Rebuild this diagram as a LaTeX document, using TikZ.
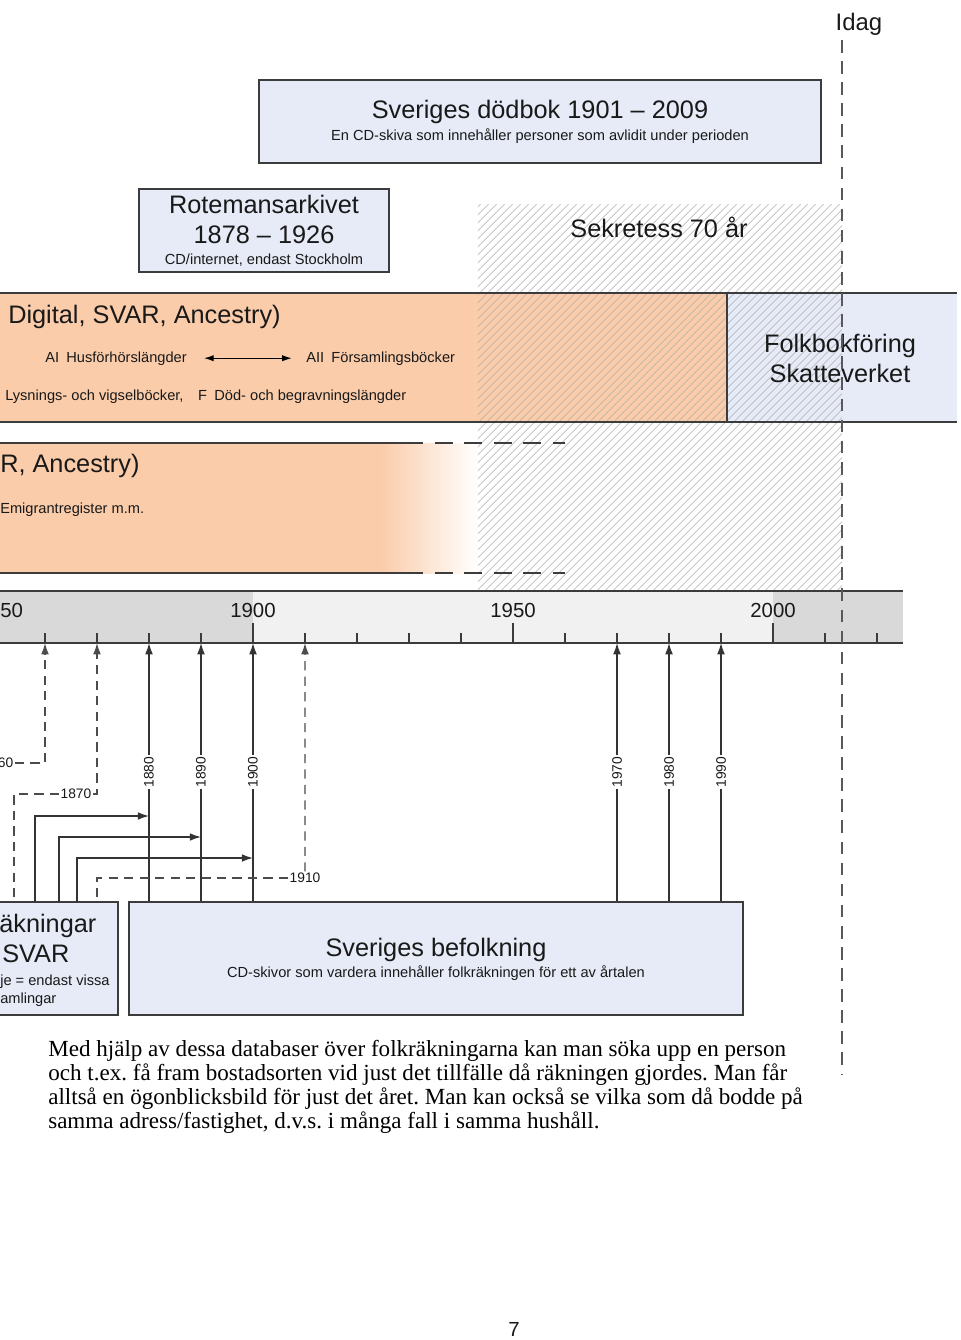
\documentclass[tikz,border=0pt]{standalone}
\usepackage{fontspec}
\setmainfont{Liberation Serif}
\setsansfont{Liberation Sans}
\usetikzlibrary{arrows.meta,positioning,calc,patterns.meta}
\definecolor{peach}{RGB}{250,204,170}
\definecolor{paleblue}{RGB}{230,235,247}
\definecolor{frame}{RGB}{60,60,60}
\definecolor{axdark}{RGB}{217,217,217}
\definecolor{axlight}{RGB}{241,241,241}
\definecolor{hatchgray}{RGB}{175,175,175}
\newcommand{\bigtxt}{\fontsize{18}{21.5}\selectfont}
\newcommand{\smalltxt}{\fontsize{10.4}{12.4}\selectfont}
\newcommand{\yeartxt}{\fontsize{9.8}{11}\selectfont}
\newcommand{\axtxt}{\fontsize{14.5}{17}\selectfont}

\begin{document}
\begin{tikzpicture}[x=0.025cm, y=-0.025cm,
    every node/.style={font=\sffamily, text=black!90},
    dbbox/.style={draw=frame, line width=0.9pt, fill=paleblue, inner sep=0pt},
    title/.style={anchor=base, font=\sffamily\bigtxt, inner sep=0pt},
    sub/.style={anchor=base, font=\sffamily\smalltxt, inner sep=0pt},
    lbl/.style={anchor=base west, inner sep=0pt},
    bandline/.style={draw=frame, line width=1.3pt},
    census/.style={-{Latex[length=8pt,width=5.5pt]}, line width=0.9pt, draw=black!80},
    partial/.style={census, dash pattern=on 6.5pt off 4.5pt, draw=black!70},
    partline/.style={line width=0.9pt, dash pattern=on 6.5pt off 4.5pt, draw=black!70},
    yearlbl/.style={rotate=90, fill=white, inner sep=1pt, font=\sffamily\yeartxt},
    yearnote/.style={inner sep=1pt, font=\sffamily\yeartxt}
]
\useasboundingbox (0,0) rectangle (960,1340);

% bands behind the secrecy area
\fill[peach] (-10,293) rectangle (727,422);
\fill[paleblue] (727,293) rectangle (957,422);
\fill[peach] (-10,443) rectangle (380,573);
\shade[left color=peach, right color=white] (380,443) rectangle (478,573);

% secrecy area
\node[minimum width=9.1cm, minimum height=9.65cm, inner sep=0pt,
      pattern={Lines[angle=45,distance=4pt,line width=0.5pt]}, pattern color=hatchgray] (sekr) at (660,398) {};
\node[title] at (659,237) {Sekretess 70 år};

% band borders
\draw[bandline] (-10,293) -- (957,293);
\draw[bandline] (-10,422) -- (957,422);
\draw[bandline] (727,293) -- (727,422);
\draw[bandline] (-10,443) -- (405,443);
\draw[bandline] (-10,573) -- (405,573);
\draw[bandline, dash pattern=on 13pt off 8pt] (405,443) -- (565,443);
\draw[bandline, dash pattern=on 13pt off 8pt] (405,573) -- (565,573);

% band texts
\node[lbl, font=\sffamily\bigtxt] at (8,323) {Digital, SVAR, Ancestry)};
\node[lbl, font=\sffamily\smalltxt] (hfl) at (45,362) {AI\enspace Husförhörslängder};
\node[lbl, font=\sffamily\smalltxt] (fsb) at (306,362) {AII\enspace Församlingsböcker};
\draw[{Latex[length=7pt,width=4.5pt]}-{Latex[length=7pt,width=4.5pt]}, line width=0.9pt,
      shorten <=12pt, shorten >=10pt] (hfl) -- (fsb);
\node[lbl, font=\sffamily\smalltxt] at (5,400) {Lysnings- och vigselböcker,\quad F\enspace Död- och begravningslängder};
\node[title] at (840,352) {Folkbokföring};
\node[title] at (840,382) {Skatteverket};
\node[lbl, font=\sffamily\bigtxt] at (0,472) {R, Ancestry)};
\node[lbl, font=\sffamily\smalltxt] at (0,513) {Emigrantregister m.m.};

% database boxes
\node[dbbox, minimum width=14.05cm, minimum height=2.075cm] (dodbok) at (540,121.5) {};
\node[title] at (540,119) {Sveriges dödbok 1901 – 2009};
\node[sub] at (540,141) {En CD-skiva som innehåller personer som avlidit under perioden};

\node[dbbox, minimum width=6.25cm, minimum height=2.075cm] (rote) at (264,230.5) {};
\node[title] at (264,213) {Rotemansarkivet};
\node[title] at (264,243) {1878 – 1926};
\node[sub] at (264,264) {CD/internet, endast Stockholm};

\node[dbbox, minimum width=15.35cm, minimum height=2.825cm] (befolk) at (436,958.5) {};
\node[title] at (436,956) {Sveriges befolkning};
\node[sub] at (436,977) {CD-skivor som vardera innehåller folkräkningen för ett av årtalen};

\node[dbbox, minimum width=3.7cm, minimum height=2.825cm] (frakn) at (44,958.5) {};
\node[lbl, font=\sffamily\bigtxt] at (-1,932) {äkningar};
\node[lbl, font=\sffamily\bigtxt] at (2,962) {SVAR};
\node[lbl, font=\sffamily\smalltxt] at (0,985) {je = endast vissa};
\node[lbl, font=\sffamily\smalltxt] at (0,1003) {amlingar};

% time axis
\fill[axdark] (-10,591) rectangle (253,643);
\fill[axlight] (253,591) rectangle (773,643);
\fill[axdark] (773,591) rectangle (903,643);
\draw[draw=frame, line width=0.8pt] (-10,591) -- (903,591);
\draw[draw=frame, line width=1.4pt] (-10,643) -- (903,643);
\foreach \yr in {1860,1870,...,2020}{
  \pgfmathsetmacro{\xx}{253+5.2*(\yr-1900)}
  \draw[draw=frame, line width=1pt] (\xx,633) -- (\xx,643);
  \coordinate (t\yr) at (\xx,643);
}
\foreach \yr in {1900,1950,2000}{
  \draw[draw=frame, line width=1pt] (t\yr) -- ++(0,-20);
  \node[anchor=base, inner sep=0pt, font=\sffamily\axtxt] at ($(t\yr)+(0,-26)$) {\yr};
}
\node[anchor=base west, inner sep=0pt, font=\sffamily\axtxt] at (0,617) {50};

% census years
\foreach \yr in {1880,1890,1900,1970,1980,1990}
  \draw[census] (t\yr |- befolk.north) -- node[yearlbl] {\yr} (t\yr);
\coordinate (f1880) at (35,902);
\coordinate (f1890) at (59,902);
\coordinate (f1900) at (77,902);
\draw[census] (f1880) |- ($(t1880)+(0,173)$);
\draw[census] (f1890) |- ($(t1890)+(0,194)$);
\draw[census] (f1900) |- ($(t1900)+(0,215)$);

\node[anchor=east, yearnote] (l1860) at (15,763) {60};
\draw[partial] (l1860) -| (t1860);
\node[yearnote] (l1870) at (76,794) {1870};
\coordinate (c1870) at (14,902);
\draw[partial] (l1870) -| (t1870);
\draw[partline] (l1870) -| (c1870);
\node[yearnote] (l1910) at (305,878) {1910};
\coordinate (c1910) at (97,902);
\draw[partial] (l1910) -- (t1910);
\draw[partline] (l1910) -| (c1910);

% today
\node[anchor=base, inner sep=0pt, font=\sffamily\fontsize{17}{20}\selectfont] (idag) at (859,31) {Idag};
\coordinate (idagtop) at (842,40);
\coordinate (idagend) at (842,1075);
\draw[line width=1.3pt, draw=black!65, dash pattern=on 9pt off 6pt] (idagtop) -- (idagend);

% body text
\node[anchor=north west, align=left, inner sep=0pt, text=black,
      font=\rmfamily\frenchspacing\fontsize{16.4}{17.07}\selectfont] (txt) at (48,1040)
  {Med hjälp av dessa databaser över folkräkningarna kan man söka upp en person\\
   och t.ex. få fram bostadsorten vid just det tillfälle då räkningen gjordes. Man får\\
   alltså en ögonblicksbild för just det året. Man kan också se vilka som då bodde på\\
   samma adress/fastighet, d.v.s. i många fall i samma hushåll.};
\node[anchor=base, inner sep=0pt, font=\sffamily\fontsize{14.5}{17}\selectfont] (pnum) at (514,1336) {7};
\end{tikzpicture}
\end{document}
